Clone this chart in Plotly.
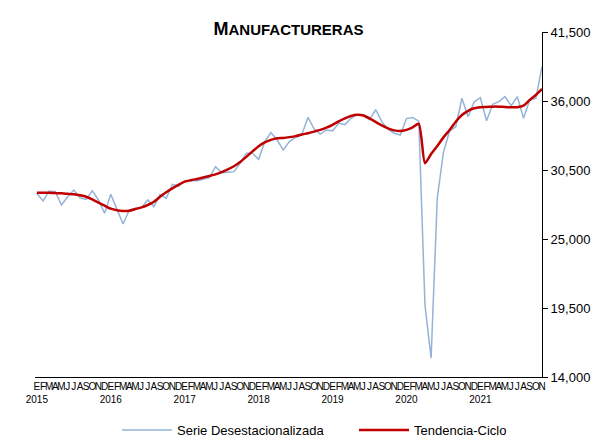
import plotly.graph_objects as go

meses = ["E", "F", "M", "A", "M", "J", "J", "A", "S", "O", "N", "D"]
anios = [2015, 2016, 2017, 2018, 2019, 2020, 2021]

serie_desest = [
    28640, 28030, 28830, 28770, 27710, 28370, 28900, 28290, 28160, 28850, 28110, 27050,
    28560, 27310, 26200, 27310, 27450, 27520, 28110, 27580, 28560, 28240, 29360, 29220,
    29620, 29650, 29650, 29760, 29890, 30770, 30290, 30330, 30370, 31030, 31830, 31830,
    31350, 32760, 33490, 32890, 32100, 32760, 33100, 33290, 34690, 33780, 33360, 33690,
    33620, 34220, 34120, 34620, 34910, 34860, 34510, 35310, 34350, 33750, 33430, 33290,
    34600, 34680, 34400, 19750, 15510, 28270, 31900, 33610, 33950, 36220, 34750, 35940,
    36260, 34430, 35740, 35950, 36350, 35630, 36350, 34620, 36080, 36210, 38740,
]

tendencia = [
    28690, 28690, 28680, 28660, 28640, 28600, 28560, 28480, 28370, 28160, 27900, 27655,
    27415, 27290, 27230, 27255, 27390, 27525, 27710, 27970, 28370, 28720, 29040, 29320,
    29570, 29690, 29790, 29900, 30020, 30150, 30330, 30550, 30800, 31130, 31550, 31980,
    32400, 32700, 32900, 33030, 33060, 33120, 33200, 33330, 33430, 33560, 33700, 33880,
    34100, 34380, 34620, 34810, 34900, 34850, 34620, 34330, 34050, 33820, 33660, 33600,
    33700, 33900, 34180, 31040, 31780, 32410, 33100, 33690, 34350, 34880, 35220, 35420,
    35500, 35520, 35550, 35550, 35520, 35500, 35500, 35630, 36080, 36480, 36960,
]

y_ticks = [14000, 19500, 25000, 30500, 36000, 41500]

n = len(serie_desest)
x = list(range(n))
etiquetas = []
for i in x:
    m = meses[i % 12]
    if i % 12 == 0:
        etiquetas.append(f"{m}<br>{anios[i // 12]}")
    else:
        etiquetas.append(m)

fig = go.Figure()

fig.add_trace(
    go.Scatter(
        x=x,
        y=serie_desest,
        name="Serie Desestacionalizada",
        mode="lines",
        line=dict(color="#95B3D7", width=1.5),
    )
)

fig.add_trace(
    go.Scatter(
        x=x,
        y=tendencia,
        name="Tendencia-Ciclo",
        mode="lines",
        line=dict(color="#C00000", width=2.5, shape="spline", smoothing=0.6),
    )
)

fig.update_xaxes(
    range=[-0.3, n - 1],
    tickmode="array",
    tickvals=x,
    ticktext=etiquetas,
    tickangle=0,
    showgrid=False,
    zeroline=False,
    showline=True,
    linecolor="black",
    linewidth=1,
    ticks="",
    automargin=False,
    tickfont=dict(family="Liberation Sans, Arial", size=10, color="black"),
)

fig.update_yaxes(
    side="right",
    range=[14000, 41500],
    tickmode="array",
    tickvals=y_ticks,
    tickformat=",",
    showgrid=False,
    zeroline=False,
    showline=True,
    linecolor="black",
    linewidth=1,
    ticks="outside",
    ticklen=5,
    tickcolor="black",
    automargin=False,
    tickfont=dict(family="Liberation Sans, Arial", size=13, color="black"),
)

fig.update_layout(
    width=602,
    height=444,
    margin=dict(l=35, r=60, t=32, b=67, autoexpand=False),
    plot_bgcolor="white",
    paper_bgcolor="white",
    title=dict(
        text="<b>M<span style='font-size:15px'>ANUFACTURERAS</span></b>",
        font=dict(family="Liberation Sans, Arial", size=18, color="black"),
        x=0.5,
        xref="paper",
        xanchor="center",
        y=1 - 29 / 444,
        yref="container",
        yanchor="middle",
    ),
    showlegend=True,
    legend=dict(
        orientation="h",
        x=117 / 602,
        xref="container",
        xanchor="left",
        y=1 - 430 / 444,
        yref="container",
        yanchor="middle",
        entrywidth=172,
        entrywidthmode="pixels",
        itemwidth=50,
        font=dict(family="Liberation Sans, Arial", size=13, color="black"),
    ),
)

fig.write_html(
    "out.html",
    config={"displayModeBar": False},
    post_script="document.body.style.margin='0';",
)
